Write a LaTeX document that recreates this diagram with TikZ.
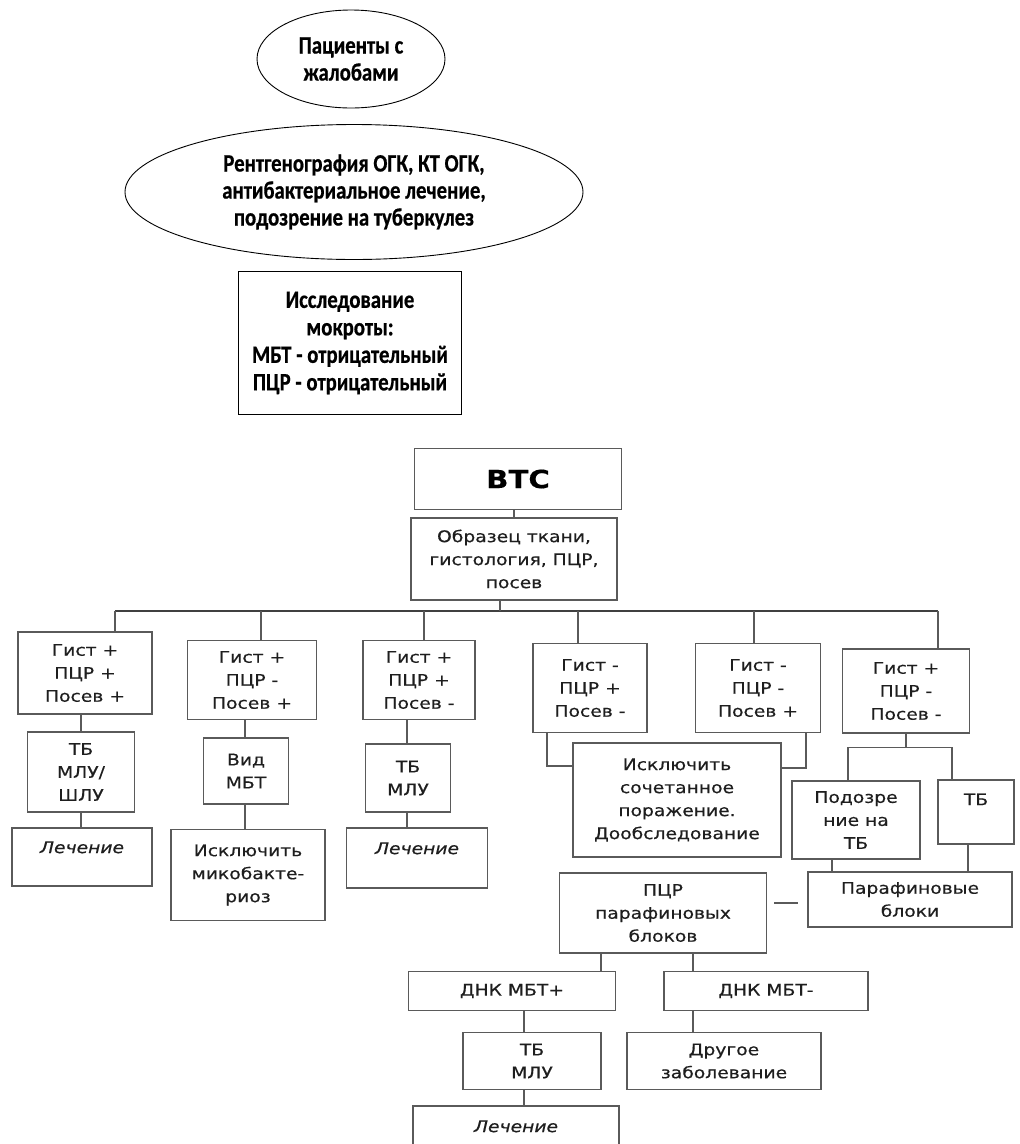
\documentclass[tikz,border=0pt]{standalone}
\usepackage{fontspec}
\setmainfont{DejaVu Sans}
\newfontfamily\topfont[FakeStretch=0.83,FakeBold=0.6]{Carlito}
\newfontfamily\lowfont[FakeStretch=1.17,FakeBold=0.5]{DejaVu Sans}
\usetikzlibrary{shapes.geometric,calc}
\definecolor{lgray}{HTML}{5A5A5A}
\definecolor{tgray}{HTML}{1E1E1E}
\tikzset{
  topell/.style={draw=black, line width=0.9pt, ellipse, inner sep=0pt, align=center,
    font=\topfont\bfseries\fontsize{25}{27}\selectfont},
  topbox/.style={draw=black, line width=1.3pt, rectangle, inner sep=0pt, align=center,
    font=\topfont\bfseries\fontsize{25}{27.5}\selectfont},
  box/.style={draw=lgray, line width=1.3pt, rectangle, inner sep=0pt, align=center,
    text=tgray, font=\lowfont\fontsize{16}{23}\selectfont},
  txt/.style={inner sep=0pt, align=center, text=tgray, font=\lowfont\fontsize{16}{23}\selectfont},
  con/.style={draw=lgray, line width=1.3pt},
  bus/.style={draw=black!75, line width=1.7pt}
}
\begin{document}
\begin{tikzpicture}[x=1pt,y=-1pt]
\useasboundingbox (0,0) rectangle (1020,1144);
\clip (0,0) rectangle (1020,1144);

% top block
\node[topell, minimum width=188pt, minimum height=98pt] (pat) at (351,59) {Пациенты с\\жалобами};
\node[topell, minimum width=458pt, minimum height=135pt] (rtg) at (354,192) {Рентгенография ОГК, КТ ОГК,\\антибактериальное лечение,\\подозрение на туберкулез};
\node[topbox, minimum width=223pt, minimum height=143pt] (mok) at (350,343) {Исследование\\мокроты:\\МБТ - отрицательный\\ПЦР - отрицательный};

% VTS
\node[box, minimum width=207pt, minimum height=61pt, text=black, font=\lowfont\bfseries\fontsize{25}{28}\selectfont] (vts) at (518,479) {ВТС};
\node[box, minimum width=206pt, minimum height=82pt] (obr) at (514,559) {Образец ткани,\\гистология, ПЦР,\\посев};
\draw[con] (vts.south -| obr.north) -- (obr.north);

% bus
\coordinate (busL) at (115,611);
\coordinate (busR) at (938,611);
\coordinate (d2) at (261,611);
\coordinate (d3) at (424,611);
\coordinate (d4) at (578,611);
\coordinate (d5) at (754,611);
\coordinate (ob) at ($(obr.south)+(-14,0)$);
\draw[bus] (busL) -- (busR);
\draw[con] (ob) -- (ob |- busL);

% column 1
\node[box, minimum width=134pt, minimum height=82pt] (g1) at (85,673) {Гист +\\ПЦР +\\Посев +};
\node[box, minimum width=107pt, minimum height=80pt] (tb1) at (81,772) {ТБ\\МЛУ/\\ШЛУ};
\node[box, minimum width=140pt, minimum height=58pt] (l1) at (82,857) {};
\node[txt] (l1t) at ($(l1.north)+(0,20)$) {\itshape Лечение};

% column 2
\node[box, minimum width=129pt, minimum height=79pt] (g2) at (252,680) {Гист +\\ПЦР -\\Посев +};
\node[box, minimum width=85pt, minimum height=66pt] (vid) at (246,771) {Вид\\МБТ};
\node[box, minimum width=154pt, minimum height=91pt] (isk1) at (248,875) {Исключить\\микобакте-\\риоз};

% column 3
\node[box, minimum width=112pt, minimum height=79pt] (g3) at (419,680) {Гист +\\ПЦР +\\Посев -};
\node[box, minimum width=85pt, minimum height=68pt] (tb3) at (408,778) {ТБ\\МЛУ};
\node[box, minimum width=141pt, minimum height=60pt] (l3) at (417,858) {};
\node[txt] (l3t) at ($(l3.north)+(0,21)$) {\itshape Лечение};

% columns 4-5
\node[box, minimum width=114pt, minimum height=89pt] (g4) at (590,688) {Гист -\\ПЦР +\\Посев -};
\node[box, minimum width=125pt, minimum height=89pt] (g5) at (758,688) {Гист -\\ПЦР -\\Посев +};
\node[box, minimum width=208pt, minimum height=114pt] (iskc) at (677,800) {Исключить\\сочетанное\\поражение.\\Дообследование};

% column 6
\node[box, minimum width=127pt, minimum height=84pt] (g6) at (906,691) {Гист +\\ПЦР -\\Посев -};
\node[box, minimum width=128pt, minimum height=78pt] (pod) at (856,820) {Подозре\\ние на\\ТБ};
\node[box, minimum width=76pt, minimum height=64pt] (tbr) at (976,812) {};
\node[txt] (tbrt) at ($(tbr.north)+(0,20)$) {ТБ};
\node[box, minimum width=204pt, minimum height=55pt] (par) at (910,899.5) {Парафиновые\\блоки};

% PCR of paraffin blocks
\node[box, minimum width=207pt, minimum height=80pt] (pcr) at (663,913) {ПЦР\\парафиновых\\блоков};
\node[box, minimum width=207pt, minimum height=39pt] (dp) at (512,991) {ДНК МБТ+};
\node[box, minimum width=204pt, minimum height=39pt] (dm) at (766,991) {ДНК МБТ-};
\node[box, minimum width=138pt, minimum height=57pt] (tb4) at (532,1061) {ТБ\\МЛУ};
\node[box, minimum width=194pt, minimum height=57pt] (drg) at (724,1061) {Другое\\заболевание};
\node[box, minimum width=206pt, minimum height=54pt] (l4) at (516,1133) {};
\node[txt] (l4t) at ($(l4.north)+(0,21)$) {\itshape Лечение};

% drops from bus
\draw[con] (busL) -- (busL |- g1.north);
\draw[con] (d2) -- (d2 |- g2.north);
\draw[con] (d3) -- (d3 |- g3.north);
\draw[con] (d4) -- (d4 |- g4.north);
\draw[con] (d5) -- (d5 |- g5.north);
\draw[con] (busR) -- (busR |- g6.north);

% column links
\draw[con] (g1.south -| tb1.north) -- (tb1.north);
\draw[con] (tb1.south) -- (tb1.south |- l1.north);
\coordinate (c2) at ($(g2.south)+(-7,0)$);
\draw[con] (c2) -- (c2 |- vid.north);
\draw[con] (vid.south -| c2) -- (c2 |- isk1.north);
\coordinate (c3) at ($(g3.south)+(-12,0)$);
\draw[con] (c3) -- (c3 |- tb3.north);
\draw[con] (tb3.south -| c3) -- (c3 |- l3.north);

\draw[con] ($(g4.south)+(-43,0)$) |- ($(iskc.west)+(0,-34)$);
\draw[con] ($(g5.south)+(48,0)$) |- ($(iskc.east)+(0,-32)$);

\draw[con] (g6.south) -- ++(0,14) coordinate (sp);
\draw[con] ($(pod.north)+(-8,0)$) |- (sp) -| ($(tbr.north)+(-24,0)$);
\coordinate (c6a) at ($(pod.south)+(-24,0)$);
\draw[con] (c6a) -- (c6a |- par.north);
\coordinate (c6b) at ($(tbr.south)+(-8,0)$);
\draw[con] (c6b) -- (c6b |- par.north);

\draw[con] ($(pcr.east)+(7,-10)$) -- ($(par.west)+(-9,3.5)$);

\coordinate (c7a) at ($(pcr.south)+(-62,0)$);
\draw[con] (c7a) -- (c7a |- dp.north);
\coordinate (c7b) at ($(pcr.south)+(30,0)$);
\draw[con] (c7b) -- (c7b |- dm.north);
\coordinate (c8a) at ($(tb4.north)+(-8,0)$);
\draw[con] (c8a |- dp.south) -- (c8a);
\draw[con] (c8a |- tb4.south) -- (c8a |- l4.north);
\draw[con] (c7b |- dm.south) -- (c7b |- drg.north);
\end{tikzpicture}
\end{document}
